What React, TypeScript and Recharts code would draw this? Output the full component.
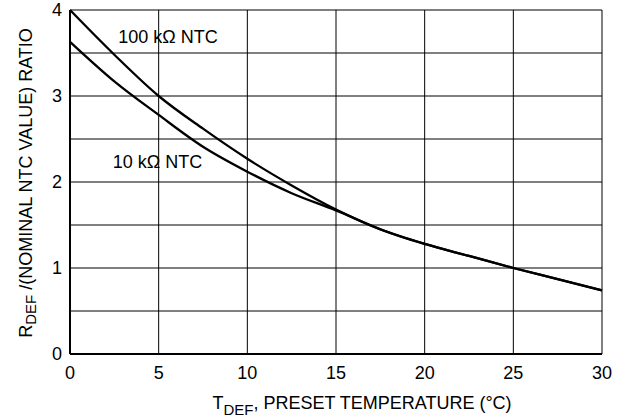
import { LineChart, Line, XAxis, YAxis, CartesianGrid, Label, ReferenceDot } from "recharts";

const temps = [0, 2.5, 5, 7.5, 10, 12.5, 15, 17.5, 20, 22.5, 25, 27.5, 30]
const ratio100k = [4.0, 3.48, 3.0, 2.62, 2.27, 1.96, 1.68, 1.45, 1.28, 1.14, 1.0, 0.87, 0.74]
const ratio10k = [3.63, 3.17, 2.78, 2.41, 2.12, 1.87, 1.67, 1.45, 1.28, 1.14, 1.0, 0.87, 0.74]

const xTicks = [0, 5, 10, 15, 20, 25, 30]
const yTicks = [0, 0.5, 1, 1.5, 2, 2.5, 3, 3.5, 4]

const FONT = "'Liberation Sans', Arial, sans-serif"
const FS = 18

const data = temps.map((t, i) => ({
    t,
    r100k: ratio100k[i],
    r10k: ratio10k[i],
}))

function XTitle({ viewBox }: any) {
    const cx = viewBox.x + viewBox.width / 2 + 26
    const y = viewBox.y + 55
    return (
        <text x={cx} y={y} textAnchor="middle" fontFamily={FONT} fontSize={FS} fill="#000">
            T<tspan dy={6} fontSize={15}>DEF</tspan>
            <tspan dy={-6}>, PRESET TEMPERATURE (°C)</tspan>
        </text>
    )
}

function YTitle({ viewBox }: any) {
    const x = viewBox.x + 32
    const cy = viewBox.y + viewBox.height / 2 + 1
    return (
        <text
            x={x}
            y={cy}
            transform={`rotate(-90 ${x} ${cy})`}
            textAnchor="middle"
            fontFamily={FONT}
            fontSize={FS}
            fill="#000"
        >
            R<tspan dy={4} fontSize={15}>DEF</tspan>
            <tspan dy={-4}> /(NOMINAL NTC VALUE) RATIO</tspan>
        </text>
    )
}

export default function App() {
    const tickStyle = { fontFamily: FONT, fontSize: FS, fill: "#000" }
    return (
        <div style={{ position: "absolute", left: 0, top: 0 }}>
            <LineChart width={631} height={419} data={data} margin={{ top: 10, right: 29, bottom: 0, left: 0 }}>
                <CartesianGrid stroke="#000" strokeWidth={1} />
                <XAxis
                    dataKey="t"
                    type="number"
                    domain={[0, 30]}
                    ticks={xTicks}
                    tickLine={false}
                    tickMargin={6}
                    height={65}
                    axisLine={{ stroke: "#000", strokeWidth: 2 }}
                    tick={tickStyle}
                >
                    <Label content={XTitle} />
                </XAxis>
                <YAxis
                    type="number"
                    domain={[0, 4]}
                    ticks={yTicks}
                    interval={0}
                    tickFormatter={(v: number) => (Number.isInteger(v) ? String(v) : "")}
                    tickLine={false}
                    width={70}
                    axisLine={{ stroke: "#000", strokeWidth: 2 }}
                    tick={tickStyle}
                >
                    <Label content={YTitle} />
                </YAxis>
                <Line
                    type="monotone"
                    dataKey="r100k"
                    stroke="#000"
                    strokeWidth={2.3}
                    dot={false}
                    isAnimationActive={false}
                />
                <Line
                    type="monotone"
                    dataKey="r10k"
                    stroke="#000"
                    strokeWidth={2.3}
                    dot={false}
                    isAnimationActive={false}
                />
                <ReferenceDot
                    x={5.53}
                    y={3.69}
                    r={0}
                    stroke="none"
                    label={{ value: "100 kΩ NTC", position: "center", fontFamily: FONT, fontSize: FS, fill: "#000" }}
                />
                <ReferenceDot
                    x={4.93}
                    y={2.24}
                    r={0}
                    stroke="none"
                    label={{ value: "10 kΩ NTC", position: "center", fontFamily: FONT, fontSize: FS, fill: "#000" }}
                />
            </LineChart>
        </div>
    )
}
